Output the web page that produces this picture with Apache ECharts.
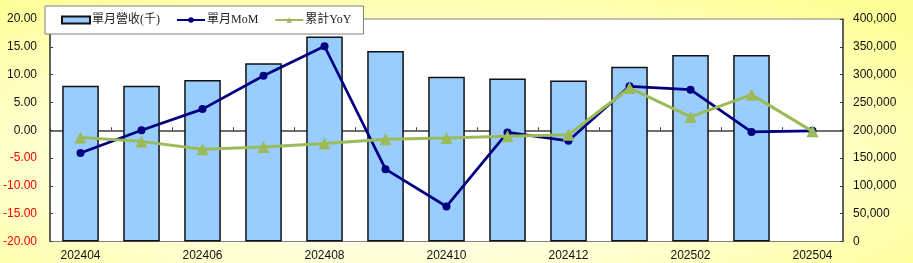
<!DOCTYPE html>
<html>
<head>
<meta charset="utf-8">
<script src="https://cdn.jsdelivr.net/npm/echarts@6/dist/echarts.min.js"></script>
<style>
  html, body { margin: 0; padding: 0; }
  #wrap { width: 913px; height: 263px;
    background: radial-gradient(ellipse 70% 75% at 45% 60%, #FFFFF2 0%, #FFFFE0 45%, #FFFF99 100%); }
  #chart { width: 913px; height: 263px; }
</style>
</head>
<body>
<div id="wrap"><div id="chart"></div></div>
<script>
const categories = ['202404','202405','202406','202407','202408','202409','202410','202411','202412','202501','202502','202503','202504'];
const revenue = [280000, 280000, 290500, 320500, 368500, 342500, 296000, 293000, 289500, 314000, 335500, 335500, null];
const mom = [-4.1, 0.0, 3.8, 9.8, 15.1, -7.0, -13.7, -0.4, -1.9, 7.9, 7.3, -0.3, -0.1];
const yoy = [-1.3, -2.0, -3.4, -3.0, -2.4, -1.6, -1.4, -1.1, -0.8, 7.6, 2.4, 6.4, -0.2];
const leftTicks = {min: -20, max: 20, interval: 5};
const rightTicks = {min: 0, max: 400000, interval: 50000};

const chart = echarts.init(document.getElementById('chart'), null, {renderer: 'canvas'});
const sans = "'Liberation Sans', Arial, sans-serif";
const serif = "'Liberation Serif', 'Noto Sans CJK TC', serif";
chart.setOption({
  backgroundColor: 'transparent',
  animation: false,
  grid: { left: 45, right: 70, top: 19, bottom: 21.5, show: true, backgroundColor: '#ffffff', borderColor: '#808080', borderWidth: 1 },
  legend: {
    left: 45, top: 6,
    backgroundColor: '#ffffff', borderColor: '#808080', borderWidth: 1,
    padding: [8, 12, 8, 16],
    itemGap: 16, itemWidth: 28, itemHeight: 7,
    textStyle: { fontFamily: serif, fontSize: 12, color: '#222', padding: [0, 0, 0, -3] },
    data: [
      { name: '單月營收(千)', icon: 'rect' },
      { name: '單月MoM' },
      { name: '累計YoY' }
    ]
  },
  xAxis: {
    type: 'category', data: categories, boundaryGap: true,
    axisLine: { lineStyle: { color: '#404040', width: 1.5 } },
    axisTick: { show: true, inside: true, length: 3, interval: 0, lineStyle: { color: '#404040' } },
    axisLabel: { interval: 1, color: '#111', fontFamily: sans, fontSize: 12, margin: 8 },
    splitLine: { show: false }
  },
  yAxis: [
    {
      type: 'value', position: 'left', min: leftTicks.min, max: leftTicks.max, interval: leftTicks.interval,
      axisLine: { show: true, lineStyle: { color: '#404040', width: 1.5 } },
      axisTick: { show: true, inside: true, length: 3, lineStyle: { color: '#404040' } },
      splitLine: { show: false },
      axisLabel: { fontFamily: sans, fontSize: 12, margin: 13,
        formatter: v => v.toFixed(2),
        color: v => (Number(v) < 0 ? '#FF0000' : '#111') }
    },
    {
      type: 'value', position: 'right', min: rightTicks.min, max: rightTicks.max, interval: rightTicks.interval,
      axisLine: { show: true, lineStyle: { color: '#404040', width: 1.5 } },
      axisTick: { show: true, inside: true, length: 3, lineStyle: { color: '#404040' } },
      splitLine: { show: false },
      axisLabel: { fontFamily: sans, fontSize: 12, margin: 10, color: '#111',
        formatter: v => Number(v).toLocaleString('en-US') }
    }
  ],
  series: [
    {
      name: '單月營收(千)', type: 'bar', yAxisIndex: 1, data: revenue,
      barCategoryGap: '40%',
      itemStyle: { color: '#99CCFF', borderColor: '#111', borderWidth: 1.5 }
    },
    {
      name: '單月MoM', type: 'line', yAxisIndex: 0, data: mom,
      symbol: 'circle', symbolSize: 8,
      lineStyle: { color: '#000080', width: 2.75 },
      itemStyle: { color: '#000080' }, z: 3
    },
    {
      name: '累計YoY', type: 'line', yAxisIndex: 0, data: yoy,
      symbol: 'triangle', symbolSize: 12,
      lineStyle: { color: '#9BBB59', width: 3 },
      itemStyle: { color: '#9BBB59' }, z: 4
    }
  ]
});
</script>
</body>
</html>
